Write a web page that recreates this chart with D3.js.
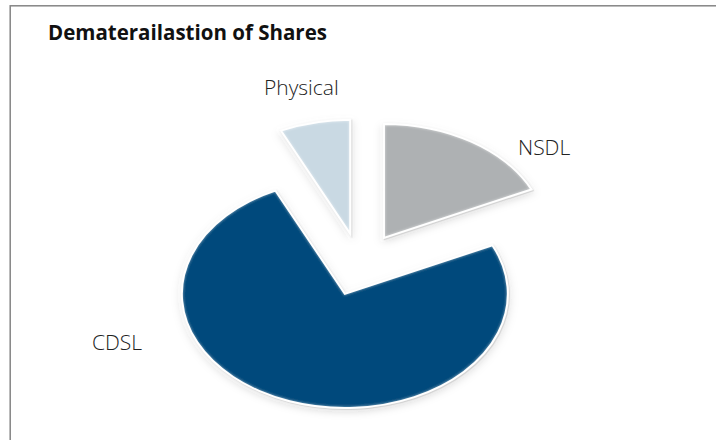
<!DOCTYPE html>
<meta charset="utf-8">
<script src="https://d3js.org/d3.v7.min.js"></script>
<style>
body { margin: 0; background: #fff; }
text { font-family: "Open Sans", "Noto Sans", sans-serif; }
</style>
<div id="my_dataviz"></div>
<script>

// values (percent)
var categories = ["NSDL", "CDSL", "Physical"];
var shares = [18, 75, 7];
var colors = ["#aeb1b3", "#034a7b", "#c9d9e3"];
var title = "Dematerailastion of Shares";

var width = 716, height = 440;
var cx = 360, cy = 264.4;   // pie centre before the slices are pulled out
var rx = 163, tilt = 0.7;   // tilted pie: circle squashed vertically
var explode = 44.7;

var svg = d3.select("#my_dataviz")
  .append("svg")
    .attr("width", width)
    .attr("height", height)
    .style("display", "block");

// soft edge, a tight grey rim and a wide faint shadow
var defs = svg.append("defs");
var shadow = defs.append("filter")
    .attr("id", "shadow")
    .attr("x", "-20%").attr("y", "-20%")
    .attr("width", "140%").attr("height", "140%");
shadow.append("feGaussianBlur")
    .attr("stdDeviation", 0.35);
shadow.append("feDropShadow")
    .attr("dx", 0.8).attr("dy", 1.2)
    .attr("stdDeviation", 0.6)
    .attr("flood-color", "#000")
    .attr("flood-opacity", 0.35);
shadow.append("feDropShadow")
    .attr("dx", 0).attr("dy", 4)
    .attr("stdDeviation", 5)
    .attr("flood-color", "#000")
    .attr("flood-opacity", 0.13);

// pale glow just inside the white rim
defs.append("filter")
    .attr("id", "glow")
  .append("feGaussianBlur")
    .attr("stdDeviation", 1.2);

// chart frame
svg.append("rect")
    .attr("x", 10.2).attr("y", 5.8)
    .attr("width", 720).attr("height", 450)
    .attr("fill", "#fff")
    .attr("stroke", "#858585")
    .attr("stroke-width", 1.5);

svg.append("text")
    .attr("x", 48).attr("y", 40)
    .attr("font-size", 20.5)
    .attr("font-weight", 700)
    .attr("fill", "#111")
    .text(title);

var pie = d3.pie().sort(null);
var arcs = pie(shares);
var arc = d3.arc().innerRadius(0).outerRadius(rx);

var slices = svg.selectAll("g.slice")
  .data(arcs)
  .enter()
  .append("g")
    .attr("class", "slice")
    .attr("filter", "url(#shadow)")
    .attr("transform", function(d) {
      var mid = (d.startAngle + d.endAngle) / 2;
      var x = cx + Math.sin(mid) * explode;
      var y = cy - Math.cos(mid) * explode * tilt;
      return "translate(" + x + "," + y + ") scale(1," + tilt + ")";
    });

slices.append("path")
    .attr("d", arc)
    .attr("fill", function(d, i) { return colors[i]; });

slices.append("path")
    .attr("d", arc)
    .attr("fill", "none")
    .attr("stroke", "#fff")
    .attr("stroke-opacity", 0.4)
    .attr("stroke-width", 3)
    .attr("filter", "url(#glow)")
    .attr("vector-effect", "non-scaling-stroke");

slices.append("path")
    .attr("d", arc)
    .attr("fill", "none")
    .attr("stroke", "#fff")
    .attr("stroke-width", 2)
    .attr("stroke-linejoin", "miter")
    .attr("vector-effect", "non-scaling-stroke");

// labels sit just outside their slices
var labelPos = [[518, 155], [92, 350], [264, 95]];
svg.selectAll("text.label")
  .data(categories)
  .enter()
  .append("text")
    .attr("class", "label")
    .attr("x", function(d, i) { return labelPos[i][0]; })
    .attr("y", function(d, i) { return labelPos[i][1]; })
    .attr("font-size", 21)
    .attr("font-weight", 300)
    .attr("fill", "#222")
    .text(function(d) { return d; });

</script>
